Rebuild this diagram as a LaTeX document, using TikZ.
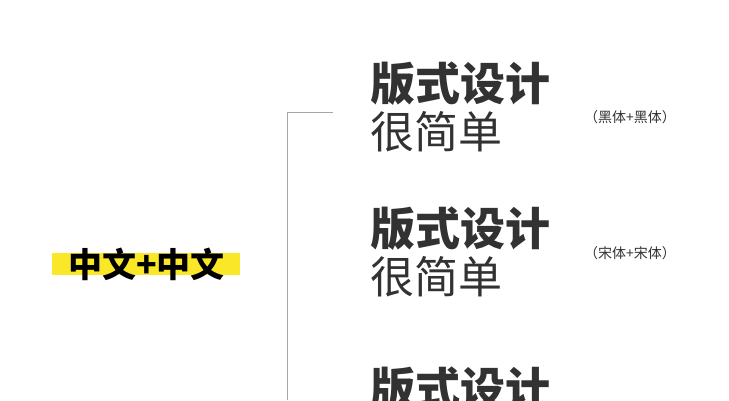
\documentclass[tikz,border=0pt]{standalone}
\usepackage{fontspec}
\newfontfamily\cjk{Noto Sans CJK SC}
\usetikzlibrary{positioning}
\definecolor{hlyellow}{RGB}{250,232,40}
\definecolor{txtgray}{RGB}{50,50,50}
\tikzset{
  titlebox/.style={anchor=base west, inner sep=0pt, font=\cjk\bfseries\fontsize{45}{45}\selectfont, text=txtgray},
  subbox/.style={anchor=base west, inner sep=0pt, font=\cjk\fontsize{44}{44}\selectfont, text=txtgray},
  notebox/.style={anchor=base west, inner sep=0pt, font=\cjk\fontsize{14}{14}\selectfont, text=txtgray}
}
\begin{document}
\begin{tikzpicture}[x=1pt,y=-1pt]
        \useasboundingbox (0,0) rectangle (729,400);
        % Left label
        \fill [hlyellow] (52,253) rectangle (240,275);
        \node [anchor=base west, inner sep=0pt, font=\cjk\bfseries\fontsize{34}{34}\selectfont] (main) at (68,277) {中文+中文};

        % Bracket
        \coordinate (top) at (287,112);
        \coordinate (tick) at (333,112);
        \coordinate (bot) at (287,400);
        \draw [gray!70, line width=1pt] (tick) -- (top) -- (bot);

        % First block
        \node [titlebox] (t1) at (370,100) {版式设计};
        \node [subbox] (s1) at (370,148) {很简单};
        \node [notebox] (n1) at (584,122) {（黑体+黑体）};

        % Second block
        \node [titlebox] (t2) at (370,245) {版式设计};
        \node [subbox] (s2) at (370,293) {很简单};
        \node [notebox] (n2) at (584,258) {（宋体+宋体）};

        % Third block
        \node [titlebox] (t3) at (370,405) {版式设计};
\end{tikzpicture}
\end{document}
